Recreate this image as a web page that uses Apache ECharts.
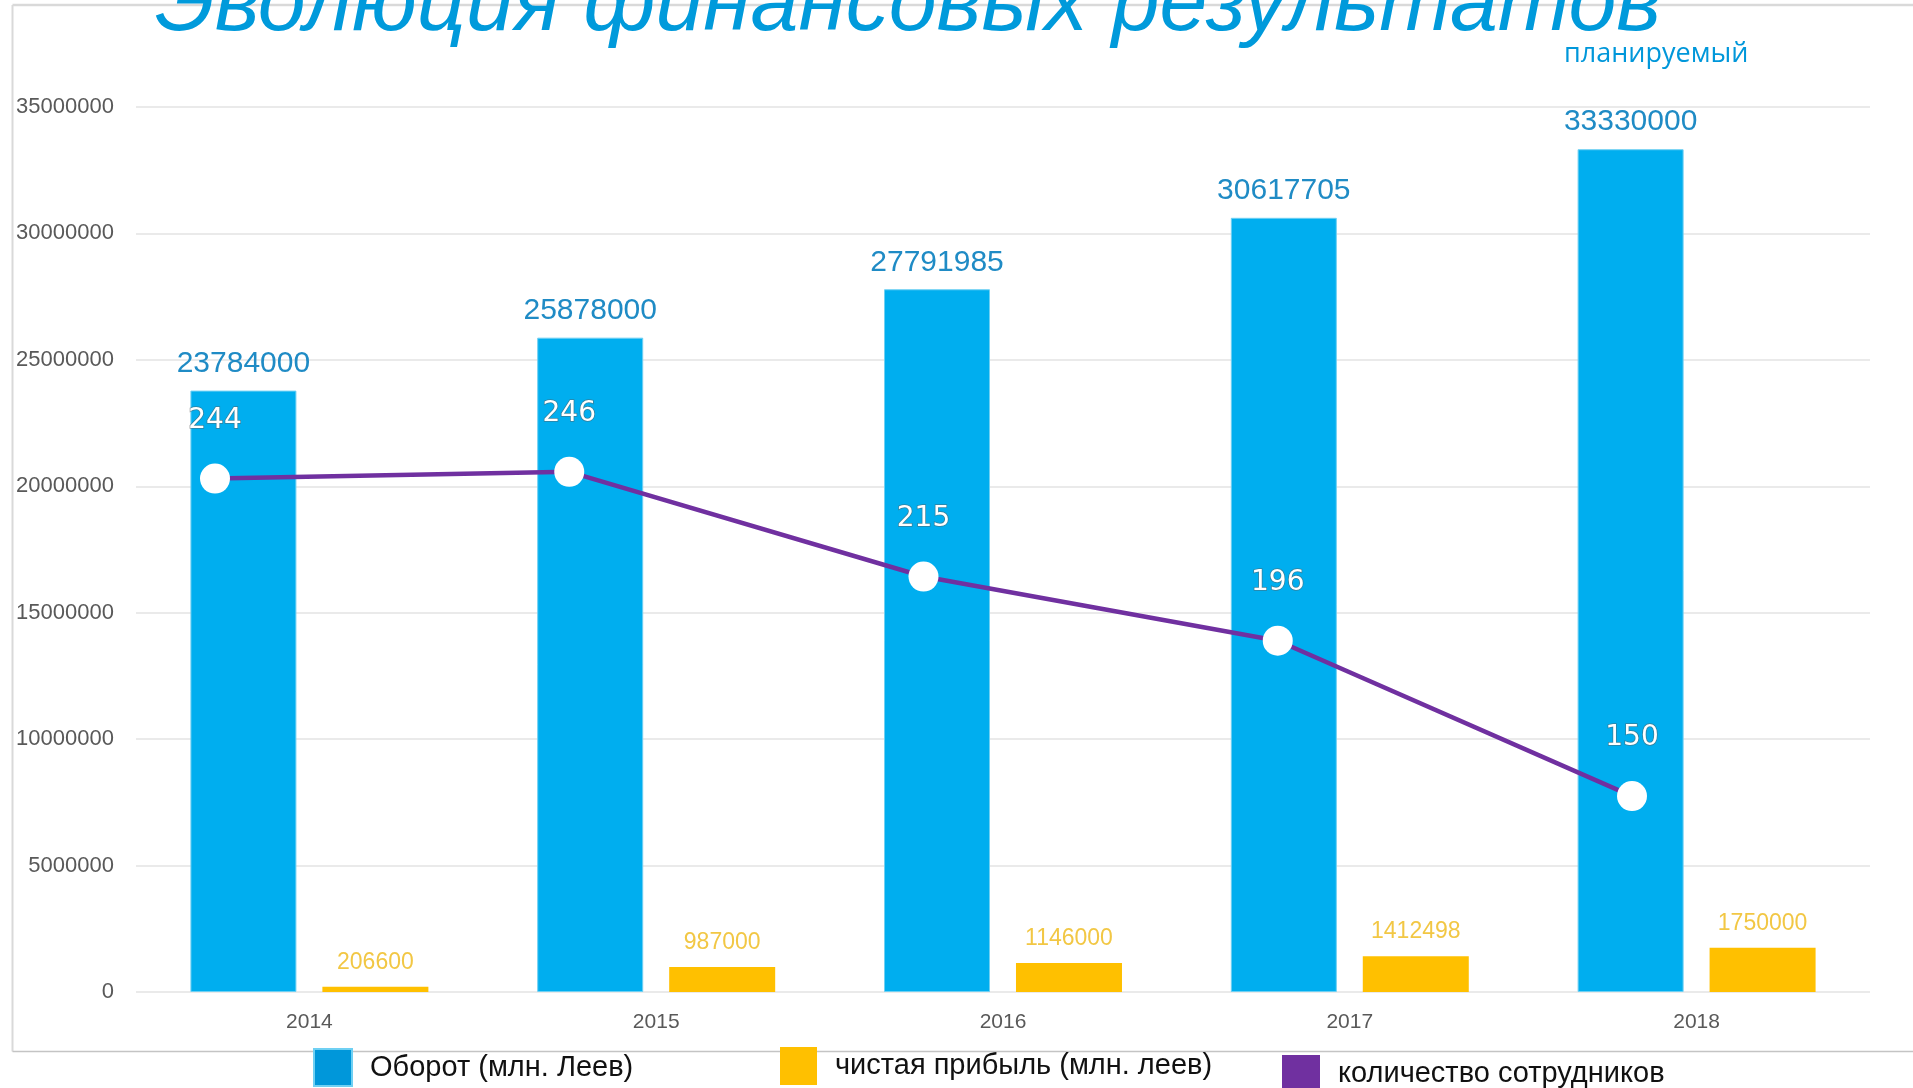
<!DOCTYPE html>
<html>
<head>
<meta charset="utf-8">
<script src="https://cdn.jsdelivr.net/npm/echarts@6/dist/echarts.min.js"></script>
<style>
html,body{margin:0;padding:0;background:#fff;}
#chart{width:1913px;height:1088px;}
</style>
</head>
<body>
<div id="chart"></div>
<script>
// ---- data ----
const years = ['2014', '2015', '2016', '2017', '2018'];
const turnover = [23784000, 25878000, 27791985, 30617705, 33330000];
const profit = [206600, 987000, 1146000, 1412498, 1750000];
const staff = [244, 246, 215, 196, 150];
const seriesNames = ['Оборот (млн. Леев)', 'чистая прибыль (млн. леев)', 'количество сотрудников'];
const titleText = 'Эволюция финансовых результатов';
const noteText = 'планируемый';
const yMin = 0, yMax = 35000000, yStep = 5000000;

const chart = echarts.init(document.getElementById('chart'), null, {renderer: 'canvas'});

const legendBase = {
  orient: 'horizontal', padding: 0, itemGap: 0,
  textStyle: {fontFamily: 'Liberation Sans', fontSize: 29, color: '#111', padding: [0, 0, 0, 13]}
};

chart.setOption({
  animation: false,
  backgroundColor: '#ffffff',
  grid: [
    {left: 136, right: 43, top: 107, bottom: 96},
    {left: 215, right: 281, top: 107, bottom: 96}
  ],
  xAxis: [
    {
      type: 'category', gridIndex: 0, data: years,
      axisLine: {show: false}, axisTick: {show: false},
      axisLabel: {color: '#595959', fontFamily: 'Liberation Sans', fontSize: 21, margin: 20}
    },
    {type: 'category', gridIndex: 1, data: years, boundaryGap: false, show: false}
  ],
  yAxis: [
    {
      type: 'value', gridIndex: 0, min: yMin, max: yMax, interval: yStep,
      axisLine: {show: false}, axisTick: {show: false},
      axisLabel: {color: '#595959', fontFamily: 'Liberation Sans', fontSize: 22, margin: 22,
        formatter: function (v) { return String(v); }},
      splitLine: {lineStyle: {color: '#e3e3e3', width: 1.5}}
    },
    {type: 'value', gridIndex: 1, min: 92, max: 354, show: false, splitLine: {show: false}}
  ],
  legend: [
    Object.assign({}, legendBase, {left: 313, top: 1048, itemWidth: 38, itemHeight: 37,
      data: [{name: seriesNames[0], icon: 'rect', itemStyle: {color: '#0097DA'}}]}),
    Object.assign({}, legendBase, {left: 780, top: 1047, itemWidth: 37, itemHeight: 38,
      data: [{name: seriesNames[1], icon: 'rect', itemStyle: {color: '#FFC000'}}]}),
    Object.assign({}, legendBase, {left: 1282, top: 1055, itemWidth: 38, itemHeight: 38,
      data: [{name: seriesNames[2], icon: 'rect', itemStyle: {color: '#7030A0'}}]})
  ],
  graphic: [
    {type: 'line', z: -10, shape: {x1: 12.5, y1: 5, x2: 1913, y2: 5}, style: {stroke: '#d9d9d9', lineWidth: 2.5}},
    {type: 'line', z: -10, shape: {x1: 12.5, y1: 5, x2: 12.5, y2: 1051.5}, style: {stroke: '#d9d9d9', lineWidth: 2}},
    {type: 'line', z: -10, shape: {x1: 12.5, y1: 1051.5, x2: 1913, y2: 1051.5}, style: {stroke: '#c4c4c4', lineWidth: 1.5}},
    {type: 'text', x: 155, y: 6, z: 10,
      style: {text: titleText, font: 'italic 86px "Liberation Sans"', fill: '#009ADB', verticalAlign: 'middle', align: 'left'}},
    {type: 'text', x: 1564, y: 54, z: 10,
      style: {text: noteText, font: '27px "Open Sans"', fill: '#0097DA', verticalAlign: 'middle', align: 'left'}}
  ],
  series: [
    {
      name: seriesNames[0], type: 'bar', xAxisIndex: 0, yAxisIndex: 0,
      data: turnover, barWidth: 106, barGap: '24.5%',
      itemStyle: {color: '#00AEEF', borderColor: '#6fd0f3', borderWidth: 1},
      label: {show: true, position: 'top', distance: 12, color: '#1F8BC5',
        fontFamily: 'Liberation Sans', fontSize: 30}
    },
    {
      name: seriesNames[1], type: 'bar', xAxisIndex: 0, yAxisIndex: 0,
      data: profit, barWidth: 106,
      itemStyle: {color: '#FFC000'},
      label: {show: true, position: 'top', distance: 13, color: '#F2C744',
        fontFamily: 'Liberation Sans', fontSize: 23}
    },
    {
      name: seriesNames[2], type: 'line', xAxisIndex: 1, yAxisIndex: 1,
      data: staff, z: 5,
      symbol: 'circle', symbolSize: 30,
      itemStyle: {color: '#ffffff', borderWidth: 0},
      lineStyle: {color: '#7030A0', width: 4.5},
      label: {show: true, position: 'top', distance: 29, color: '#ffffff',
        fontFamily: 'DejaVu Sans', fontSize: 28,
        textBorderColor: 'rgba(90,90,90,0.55)', textBorderWidth: 1.5}
    }
  ]
});
</script>
</body>
</html>
